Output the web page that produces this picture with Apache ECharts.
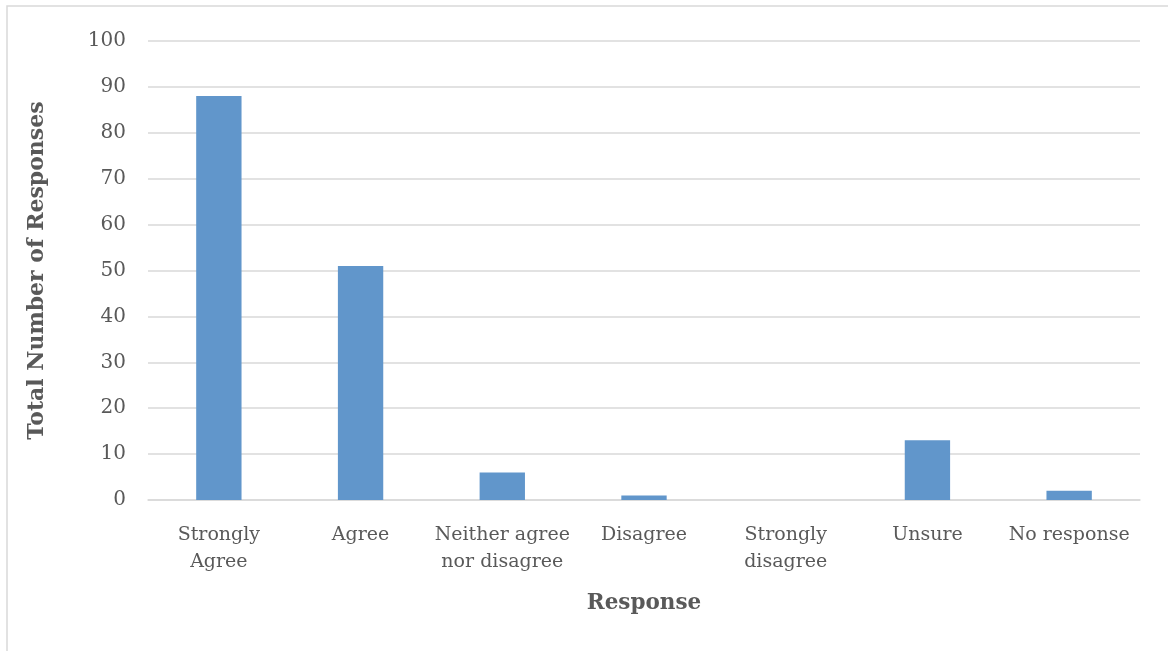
<!DOCTYPE html>
<html>
<head>
<meta charset="utf-8">
<script src="https://cdn.jsdelivr.net/npm/echarts@6/dist/echarts.min.js"></script>
<style>
  html, body { margin: 0; padding: 0; background: #ffffff; }
  #chart { width: 1168px; height: 651px; }
</style>
</head>
<body>
<div id="chart"></div>
<script>
// Survey responses
const categories = [
  'Strongly\nAgree',
  'Agree',
  'Neither agree\nnor disagree',
  'Disagree',
  'Strongly\ndisagree',
  'Unsure',
  'No response'
];
const responseCounts = [88, 51, 6, 1, 0, 13, 2];
const yTicks = { min: 0, max: 100, interval: 10 };

const FONT = '"DejaVu Serif", "Liberation Serif", serif';
const chart = echarts.init(document.getElementById('chart'));

chart.setOption({
  animation: false,
  backgroundColor: '#ffffff',
  graphic: [{
    type: 'polyline',
    shape: { points: [[7, 660], [7, 6], [1180, 6]] },
    style: { stroke: '#d9d9d9', lineWidth: 1.5, fill: null }
  }],
  grid: { left: 148, right: 28, top: 41, bottom: 151 },
  xAxis: {
    type: 'category',
    data: categories,
    name: 'Response',
    nameLocation: 'middle',
    nameGap: 92,
    nameTextStyle: { fontFamily: FONT, fontSize: 21.5, fontWeight: 'bold', color: '#595959' },
    axisLine: { lineStyle: { color: '#d9d9d9', width: 1.5 } },
    axisTick: { show: false },
    axisLabel: {
      fontFamily: FONT, fontSize: 19, color: '#595959',
      margin: 22, lineHeight: 27, interval: 0
    }
  },
  yAxis: {
    type: 'value',
    min: yTicks.min, max: yTicks.max, interval: yTicks.interval,
    name: 'Total Number of Responses',
    nameLocation: 'middle',
    nameGap: 100,
    nameTextStyle: { fontFamily: FONT, fontSize: 22, fontWeight: 'bold', color: '#595959' },
    axisLine: { show: false },
    axisTick: { show: false },
    axisLabel: { fontFamily: FONT, fontSize: 20, color: '#595959', margin: 22 },
    splitLine: { lineStyle: { color: '#d9d9d9', width: 1.5 } }
  },
  series: [{
    type: 'bar',
    data: responseCounts,
    barWidth: '32%',
    itemStyle: { color: '#6196cb' }
  }]
});
</script>
</body>
</html>
